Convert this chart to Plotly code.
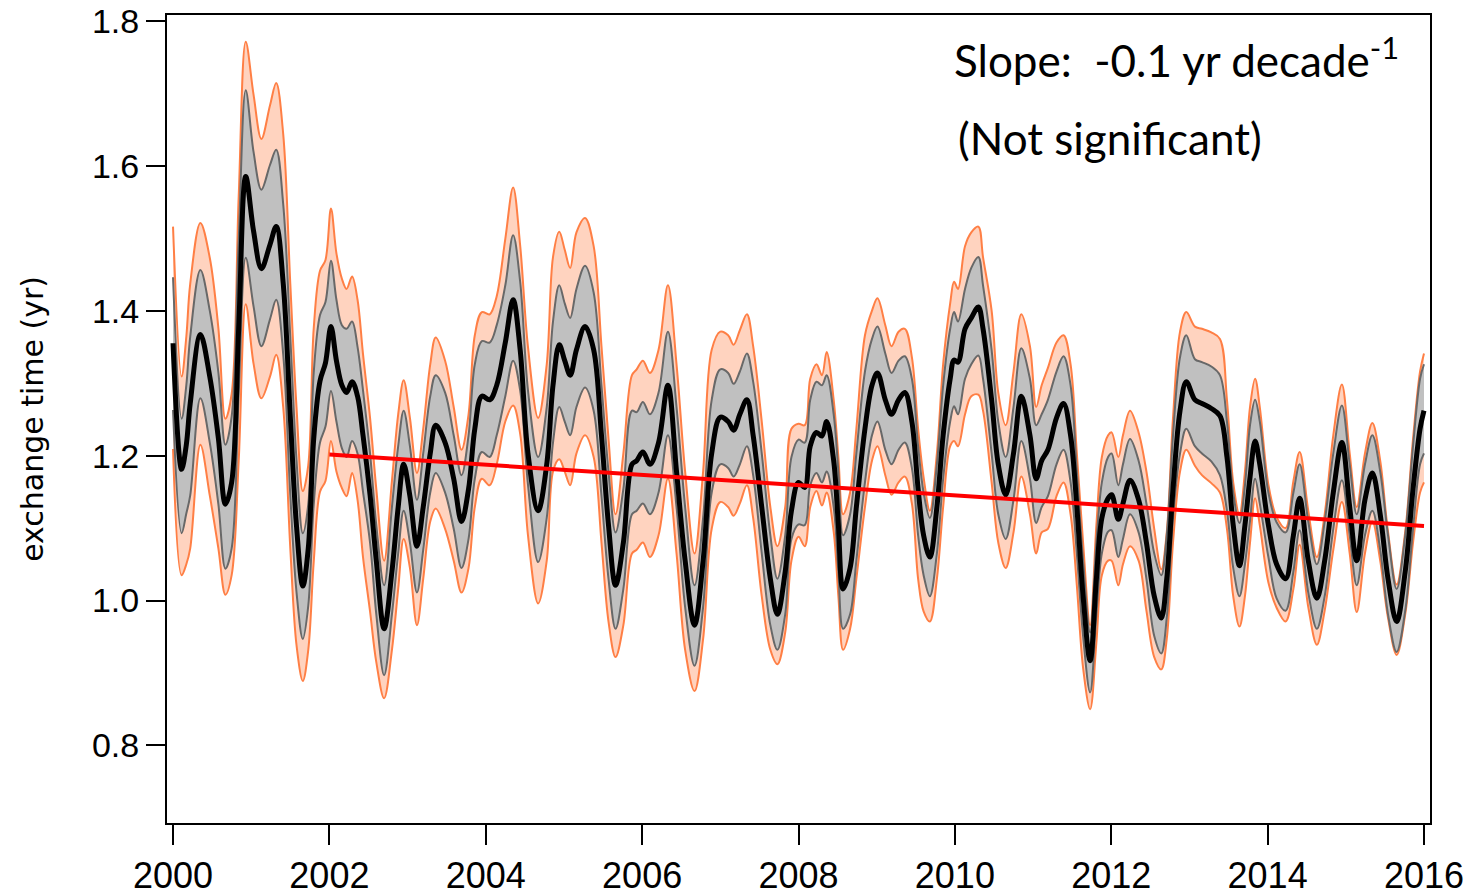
import plotly.graph_objects as go

# time axis (decimal years) shared by all curves
T = [2000.00, 2000.11, 2000.17, 2000.22, 2000.35, 2000.47, 2000.58, 2000.67, 2000.75, 2000.84, 2000.93, 2001.03, 2001.13, 2001.24, 2001.32, 2001.41, 2001.50, 2001.58, 2001.66, 2001.73, 2001.80, 2001.88, 2001.95,
     2002.02, 2002.09, 2002.16, 2002.22, 2002.29, 2002.36, 2002.43, 2002.52, 2002.60, 2002.70, 2002.80, 2002.88, 2002.95, 2003.03, 2003.12, 2003.20, 2003.29, 2003.36, 2003.48, 2003.59, 2003.69, 2003.78, 2003.86, 2003.95,
     2004.05, 2004.14, 2004.25, 2004.35, 2004.44, 2004.54, 2004.67, 2004.78, 2004.86, 2004.94, 2005.01, 2005.08, 2005.16, 2005.27, 2005.38, 2005.48, 2005.57, 2005.66, 2005.76, 2005.87, 2005.93, 2006.01,
     2006.10, 2006.21, 2006.33, 2006.44, 2006.55, 2006.67, 2006.78, 2006.89, 2007.00, 2007.10, 2007.17, 2007.25, 2007.34, 2007.42, 2007.53, 2007.64, 2007.73, 2007.83, 2007.91,
     2008.00, 2008.08, 2008.15, 2008.23, 2008.30, 2008.36, 2008.45, 2008.51, 2008.57, 2008.66, 2008.74, 2008.85, 2008.94, 2009.01, 2009.11, 2009.19, 2009.28, 2009.36, 2009.45, 2009.53, 2009.60, 2009.68, 2009.77, 2009.85, 2009.94, 2009.99,
     2010.04, 2010.13, 2010.21, 2010.30, 2010.36, 2010.47, 2010.555, 2010.65, 2010.75, 2010.85, 2010.96, 2011.04, 2011.11, 2011.19, 2011.30, 2011.39, 2011.48, 2011.56, 2011.64, 2011.73, 2011.81, 2011.88, 2011.96,
     2012.005, 2012.09, 2012.15, 2012.24, 2012.35, 2012.45, 2012.55, 2012.64, 2012.71, 2012.79, 2012.88, 2012.96, 2013.07, 2013.16, 2013.28, 2013.39, 2013.48, 2013.56, 2013.64, 2013.71, 2013.775, 2013.84, 2013.90, 2014.01,
     2014.115, 2014.23, 2014.33, 2014.41, 2014.52, 2014.63, 2014.73, 2014.84, 2014.95, 2015.05, 2015.14, 2015.245, 2015.34, 2015.44, 2015.54, 2015.65, 2015.76, 2015.86, 2015.95, 2016.00]

# central estimate of exchange time (yr)
MEAN = [1.355, 1.181, 1.215, 1.272, 1.367, 1.309, 1.224, 1.133, 1.163, 1.376, 1.585, 1.510, 1.458, 1.491, 1.516, 1.437, 1.254, 1.102, 1.020, 1.072, 1.224, 1.303, 1.328,
        1.378, 1.331, 1.297, 1.287, 1.302, 1.282, 1.228, 1.146, 1.055, 0.961, 1.040, 1.129, 1.188, 1.144, 1.075, 1.129, 1.203, 1.242, 1.218, 1.168, 1.109, 1.154, 1.237, 1.282,
        1.277, 1.297, 1.356, 1.415, 1.346, 1.203, 1.124, 1.188, 1.297, 1.353, 1.331, 1.311, 1.346, 1.378, 1.346, 1.228, 1.104, 1.021, 1.080, 1.188, 1.193, 1.205,
        1.188, 1.218, 1.297, 1.178, 1.055, 0.966, 1.055, 1.203, 1.253, 1.247, 1.235, 1.257, 1.277, 1.228, 1.129, 1.030, 0.981, 1.040, 1.124,
        1.163, 1.156, 1.213, 1.232, 1.227, 1.247, 1.193, 1.104, 1.016, 1.045, 1.129, 1.237, 1.297, 1.314, 1.277, 1.257, 1.277, 1.287, 1.247, 1.154, 1.090, 1.060, 1.129, 1.228, 1.306, 1.332,
        1.329, 1.375, 1.390, 1.405, 1.375, 1.277, 1.188, 1.146, 1.203, 1.282, 1.228, 1.168, 1.193, 1.208, 1.252, 1.272, 1.228, 1.129, 1.006, 0.917, 1.030, 1.114, 1.141,
        1.146, 1.112, 1.134, 1.166, 1.139, 1.080, 1.006, 0.976, 1.030, 1.154, 1.262, 1.302, 1.277, 1.272, 1.265, 1.255, 1.198, 1.104, 1.048, 1.104, 1.170, 1.220, 1.188, 1.104,
        1.050, 1.030, 1.090, 1.141, 1.055, 1.003, 1.055, 1.149, 1.218, 1.129, 1.055, 1.139, 1.176, 1.119, 1.030, 0.971, 1.040, 1.154, 1.237, 1.262]

# inner (grey) uncertainty band
GREY_UP = [1.446, 1.251, 1.297, 1.364, 1.456, 1.400, 1.315, 1.215, 1.254, 1.497, 1.704, 1.619, 1.567, 1.601, 1.622, 1.546, 1.364, 1.193, 1.093, 1.133, 1.315, 1.394, 1.412,
           1.469, 1.415, 1.380, 1.375, 1.385, 1.350, 1.290, 1.203, 1.104, 1.021, 1.129, 1.213, 1.262, 1.213, 1.139, 1.203, 1.282, 1.311, 1.287, 1.228, 1.173, 1.228, 1.326, 1.358,
           1.356, 1.380, 1.435, 1.504, 1.440, 1.290, 1.198, 1.267, 1.385, 1.435, 1.410, 1.390, 1.430, 1.462, 1.425, 1.297, 1.178, 1.094, 1.154, 1.262, 1.260, 1.274,
           1.257, 1.287, 1.371, 1.267, 1.129, 1.021, 1.114, 1.277, 1.319, 1.314, 1.299, 1.316, 1.341, 1.302, 1.203, 1.090, 1.030, 1.090, 1.198,
           1.222, 1.218, 1.277, 1.302, 1.297, 1.311, 1.257, 1.178, 1.090, 1.119, 1.203, 1.316, 1.361, 1.378, 1.341, 1.314, 1.331, 1.337, 1.306, 1.213, 1.149, 1.114, 1.188, 1.297, 1.375, 1.398,
           1.385, 1.430, 1.459, 1.474, 1.435, 1.346, 1.247, 1.198, 1.267, 1.348, 1.306, 1.242, 1.257, 1.277, 1.316, 1.337, 1.297, 1.178, 1.055, 0.956, 1.080, 1.163, 1.198,
           1.203, 1.159, 1.188, 1.223, 1.193, 1.134, 1.065, 1.035, 1.090, 1.228, 1.336, 1.366, 1.333, 1.329, 1.323, 1.311, 1.247, 1.149, 1.107, 1.159, 1.242, 1.277, 1.247, 1.149,
           1.108, 1.094, 1.149, 1.188, 1.109, 1.050, 1.109, 1.203, 1.269, 1.188, 1.119, 1.188, 1.228, 1.178, 1.090, 1.016, 1.090, 1.213, 1.306, 1.326]
GREY_LO = [1.263, 1.093, 1.120, 1.145, 1.279, 1.218, 1.133, 1.044, 1.072, 1.285, 1.473, 1.406, 1.351, 1.388, 1.415, 1.339, 1.145, 1.011, 0.947, 0.993, 1.133, 1.218, 1.240,
           1.289, 1.247, 1.210, 1.198, 1.220, 1.203, 1.150, 1.080, 0.981, 0.897, 0.981, 1.065, 1.124, 1.080, 1.011, 1.070, 1.149, 1.176, 1.149, 1.099, 1.045, 1.085, 1.168, 1.205,
           1.198, 1.228, 1.282, 1.331, 1.290, 1.160, 1.053, 1.114, 1.218, 1.267, 1.247, 1.228, 1.267, 1.294, 1.262, 1.144, 1.030, 0.961, 1.016, 1.119, 1.124, 1.134,
           1.119, 1.149, 1.228, 1.129, 0.991, 0.910, 0.991, 1.149, 1.188, 1.183, 1.171, 1.188, 1.213, 1.173, 1.065, 0.966, 0.932, 0.981, 1.085,
           1.105, 1.104, 1.159, 1.176, 1.163, 1.178, 1.129, 1.040, 0.961, 0.981, 1.055, 1.163, 1.228, 1.247, 1.208, 1.188, 1.208, 1.218, 1.183, 1.090, 1.035, 1.006, 1.065, 1.168, 1.247, 1.268,
           1.257, 1.306, 1.326, 1.338, 1.306, 1.203, 1.119, 1.085, 1.139, 1.220, 1.168, 1.107, 1.129, 1.144, 1.188, 1.208, 1.163, 1.065, 0.951, 0.873, 0.981, 1.065, 1.095,
           1.097, 1.060, 1.085, 1.119, 1.094, 1.030, 0.951, 0.927, 0.976, 1.114, 1.203, 1.237, 1.213, 1.203, 1.192, 1.173, 1.124, 1.045, 1.006, 1.050, 1.110, 1.168, 1.134, 1.060,
           1.003, 0.986, 1.040, 1.097, 1.011, 0.961, 1.006, 1.099, 1.166, 1.090, 1.021, 1.090, 1.124, 1.070, 0.981, 0.929, 0.986, 1.099, 1.188, 1.203]

# outer (orange) uncertainty band
ORANGE_UP = [1.516, 1.309, 1.364, 1.437, 1.521, 1.473, 1.376, 1.251, 1.285, 1.558, 1.771, 1.698, 1.637, 1.683, 1.714, 1.643, 1.437, 1.266, 1.151, 1.187, 1.376, 1.455, 1.470,
             1.541, 1.479, 1.444, 1.430, 1.447, 1.415, 1.340, 1.252, 1.154, 1.055, 1.165, 1.257, 1.304, 1.252, 1.176, 1.237, 1.326, 1.363, 1.331, 1.267, 1.208, 1.257, 1.366, 1.398,
             1.395, 1.420, 1.499, 1.570, 1.490, 1.350, 1.252, 1.326, 1.474, 1.509, 1.484, 1.459, 1.508, 1.528, 1.489, 1.351, 1.223, 1.119, 1.203, 1.311, 1.319, 1.331,
             1.314, 1.346, 1.435, 1.326, 1.178, 1.065, 1.178, 1.346, 1.371, 1.366, 1.353, 1.373, 1.395, 1.351, 1.247, 1.129, 1.075, 1.129, 1.237,
             1.244, 1.242, 1.306, 1.326, 1.311, 1.343, 1.277, 1.198, 1.119, 1.149, 1.237, 1.366, 1.400, 1.417, 1.380, 1.351, 1.371, 1.375, 1.336, 1.237, 1.170, 1.124, 1.203, 1.326, 1.410, 1.440,
             1.430, 1.489, 1.508, 1.516, 1.474, 1.400, 1.287, 1.242, 1.316, 1.395, 1.351, 1.267, 1.297, 1.321, 1.356, 1.366, 1.326, 1.203, 1.080, 0.966, 1.104, 1.198, 1.228,
             1.232, 1.198, 1.228, 1.262, 1.232, 1.178, 1.099, 1.043, 1.094, 1.252, 1.371, 1.398, 1.378, 1.375, 1.370, 1.361, 1.277, 1.163, 1.119, 1.178, 1.267, 1.306, 1.267, 1.160,
             1.115, 1.100, 1.165, 1.205, 1.124, 1.060, 1.119, 1.228, 1.298, 1.203, 1.129, 1.203, 1.245, 1.193, 1.095, 1.022, 1.095, 1.223, 1.316, 1.341]
ORANGE_LO = [1.209, 1.035, 1.050, 1.072, 1.215, 1.145, 1.072, 1.008, 1.035, 1.193, 1.409, 1.327, 1.279, 1.309, 1.339, 1.266, 1.072, 0.938, 0.889, 0.932, 1.054, 1.150, 1.165,
             1.220, 1.178, 1.155, 1.144, 1.176, 1.139, 1.060, 0.985, 0.915, 0.865, 0.932, 1.016, 1.085, 1.045, 0.966, 1.030, 1.109, 1.127, 1.099, 1.055, 1.011, 1.045, 1.129, 1.168,
             1.159, 1.188, 1.247, 1.269, 1.230, 1.090, 0.996, 1.055, 1.178, 1.195, 1.178, 1.159, 1.203, 1.228, 1.198, 1.080, 0.971, 0.922, 0.966, 1.065, 1.070, 1.080,
             1.060, 1.090, 1.168, 1.065, 0.932, 0.875, 0.947, 1.099, 1.136, 1.129, 1.117, 1.134, 1.159, 1.114, 1.006, 0.932, 0.912, 0.956, 1.055,
             1.088, 1.075, 1.129, 1.151, 1.131, 1.149, 1.095, 1.006, 0.932, 0.961, 1.030, 1.129, 1.193, 1.213, 1.173, 1.146, 1.163, 1.171, 1.134, 1.030, 0.985, 0.971, 1.030, 1.129, 1.213, 1.220,
             1.213, 1.257, 1.282, 1.284, 1.262, 1.163, 1.080, 1.045, 1.094, 1.171, 1.119, 1.065, 1.094, 1.099, 1.144, 1.163, 1.119, 1.021, 0.907, 0.850, 0.942, 1.035, 1.055,
             1.055, 1.021, 1.050, 1.075, 1.055, 0.986, 0.922, 0.905, 0.947, 1.080, 1.178, 1.208, 1.186, 1.173, 1.162, 1.149, 1.099, 1.006, 0.964, 1.006, 1.080, 1.141, 1.104, 1.025,
             0.990, 0.971, 1.016, 1.077, 0.991, 0.939, 0.986, 1.070, 1.136, 1.065, 0.984, 1.065, 1.109, 1.055, 0.976, 0.925, 0.981, 1.080, 1.149, 1.163]

# linear trend 2002-2016
TREND_T = [2002.0, 2016.0]
TREND_V = [1.2015, 1.103]

X_TICKS = [2000, 2002, 2004, 2006, 2008, 2010, 2012, 2014, 2016]
Y_TICKS = [0.8, 1.0, 1.2, 1.4, 1.6, 1.8]

ORANGE_LINE = "#ff7f45"
ORANGE_FILL = "#ffd3bf"
GREY_LINE = "#686868"
GREY_FILL = "#c0c0c0"

fig = go.Figure()
fig.add_trace(go.Scatter(x=T, y=ORANGE_LO, mode="lines", line=dict(color=ORANGE_LINE, width=2, shape="spline"),
                         hoverinfo="skip", showlegend=False))
fig.add_trace(go.Scatter(x=T, y=ORANGE_UP, mode="lines", line=dict(color=ORANGE_LINE, width=2, shape="spline"),
                         fill="tonexty", fillcolor=ORANGE_FILL, hoverinfo="skip", showlegend=False))
fig.add_trace(go.Scatter(x=T, y=GREY_LO, mode="lines", line=dict(color=GREY_LINE, width=2, shape="spline"),
                         hoverinfo="skip", showlegend=False))
fig.add_trace(go.Scatter(x=T, y=GREY_UP, mode="lines", line=dict(color=GREY_LINE, width=2, shape="spline"),
                         fill="tonexty", fillcolor=GREY_FILL, hoverinfo="skip", showlegend=False))
fig.add_trace(go.Scatter(x=T, y=MEAN, mode="lines", line=dict(color="black", width=5, shape="spline"),
                         showlegend=False))
fig.add_trace(go.Scatter(x=TREND_T, y=TREND_V, mode="lines", line=dict(color="#ff0000", width=4),
                         showlegend=False))

fig.update_layout(
    width=1478, height=895,
    margin=dict(l=167, r=48, t=15, b=72, autoexpand=False),
    paper_bgcolor="white", plot_bgcolor="white",
    showlegend=False,
    xaxis=dict(range=[1999.923, 2016.077], tickvals=X_TICKS, ticks="outside", ticklen=20, tickwidth=2,
               tickcolor="black", showline=True, linewidth=2, linecolor="black", mirror=True,
               showgrid=False, zeroline=False, automargin=False,
               tickfont=dict(family="Liberation Sans, Arial, sans-serif", size=36, color="black")),
    yaxis=dict(range=[0.693, 1.808], tickvals=Y_TICKS, tickformat=".1f", ticks="outside", ticklen=19, tickwidth=2,
               tickcolor="black", showline=True, linewidth=2, linecolor="black", mirror=True,
               showgrid=False, zeroline=False, automargin=False,
               tickfont=dict(family="Liberation Sans, Arial, sans-serif", size=34, color="black")),
    annotations=[
        dict(text="exchange time (yr)", xref="paper", yref="paper", x=-0.107, y=0.5, textangle=-90,
             showarrow=False, xanchor="center", yanchor="middle",
             font=dict(family="DejaVu Sans", size=30, color="black")),
        dict(text="Slope:\u00a0\u00a0-0.1 yr decade<sup>-1</sup>", xref="paper", yref="paper", x=0.6215, y=0.9475,
             showarrow=False, xanchor="left", yanchor="middle",
             font=dict(family="Lato, Open Sans, sans-serif", size=44, color="black")),
        dict(text="(Not significant)", xref="paper", yref="paper", x=0.6245, y=0.8478,
             showarrow=False, xanchor="left", yanchor="middle",
             font=dict(family="Lato, Open Sans, sans-serif", size=44, color="black")),
    ],
)

fig.write_html("out.html")
